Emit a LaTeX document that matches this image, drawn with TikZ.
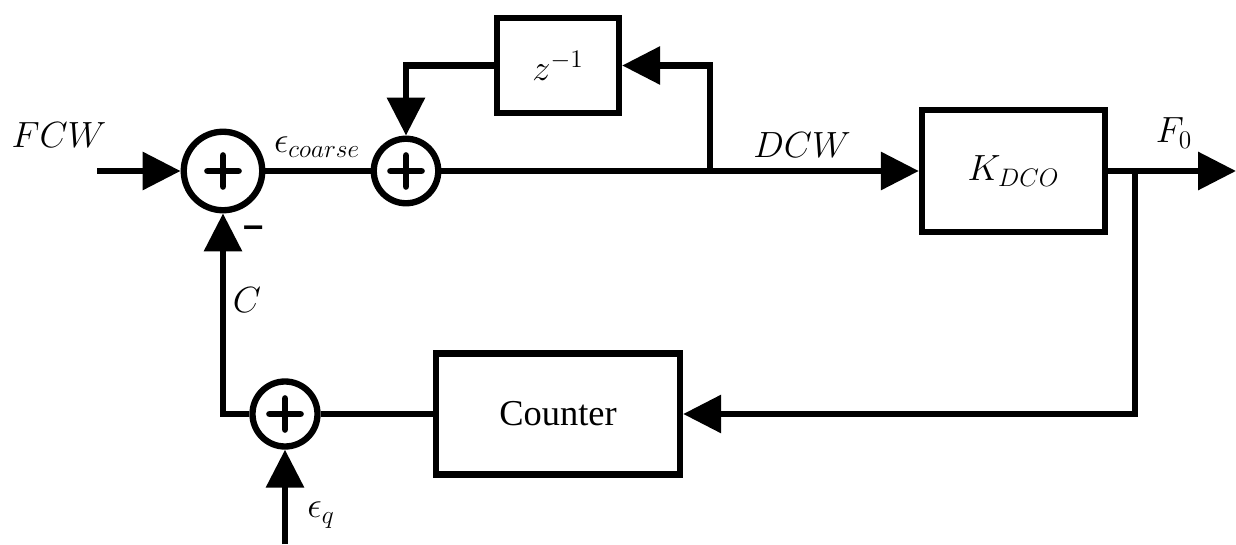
\documentclass[tikz,border=0pt]{standalone}
\usepackage[no-math]{fontspec}
\setmainfont{Liberation Serif}
\setsansfont{Liberation Sans}
\usepackage{tikz}
\usetikzlibrary{arrows.meta,positioning}
\tikzset{wire/.style={line width=3.6pt},
  box/.style={draw,wire,rectangle,inner sep=0pt,font=\huge},
  summer/.style={draw,wire,circle,inner sep=0pt,
    path picture={\draw[line width=3.8pt,line cap=round]
      ([xshift=-0.31cm]path picture bounding box.center) -- ([xshift=0.31cm]path picture bounding box.center)
      ([yshift=-0.31cm]path picture bounding box.center) -- ([yshift=0.31cm]path picture bounding box.center);}},
  lbl/.style={font=\huge,inner sep=0pt},
  arrow/.style={wire,-{Triangle[length=7.6mm,width=7.4mm]}}}

\begin{document}
\begin{tikzpicture}[on grid]
\useasboundingbox (0,0) rectangle (24.72,10.88);
\node[summer,minimum size=1.57cm] (sum1) at (4.46,7.46) {};
\node[summer,minimum size=1.29cm,right=3.66cm of sum1] (sum2) {};
\node[box,minimum width=2.44cm,minimum height=1.9cm,above right=2.11cm and 3.04cm of sum2] (zinv) {$z^{-1}$};
\node[box,minimum width=3.66cm,minimum height=2.44cm,right=12.15cm of sum2] (kdco) {$K_{DCO}$};
\node[box,minimum width=4.88cm,minimum height=2.42cm,below=6.97cm of zinv] (counter) {Counter};
\node[summer,minimum size=1.3cm,left=5.46cm of counter] (sum3) {};
\coordinate[left=2.52cm of sum1] (in);
\coordinate[right=6.08cm of sum2] (fork);
\coordinate[right=2.43cm of kdco] (tap);
\coordinate[right=4.45cm of kdco] (out);
\coordinate[below=2.6cm of sum3] (eqin);
\node[lbl,above left=0.72cm and 3.28cm of sum1] (fcw) {$FCW$};
\node[lbl,above right=0.48cm and 1.88cm of sum1] (ecoarse) {$\epsilon_{coarse}$};
\node[lbl,above left=0.52cm and 4.23cm of kdco] (dcw) {$DCW$};
\node[lbl,above right=0.76cm and 3.21cm of kdco] (f0) {$F_0$};
\node[lbl,below right=2.58cm and 0.48cm of sum1] (c) {$C$};
\node[lbl,below right=1.22cm and 0.62cm of sum1] (minus) {\sffamily\bfseries --};
\node[lbl,below right=2.02cm and 0.72cm of sum3] (eq) {$\epsilon_q$};
\draw[arrow] (in) -- (sum1);
\draw[wire] (sum1) -- (sum2);
\draw[arrow] (sum2) -- (kdco);
\draw[arrow] (fork) |- (zinv);
\draw[arrow] (zinv) -| (sum2);
\draw[arrow] (kdco) -- (out);
\draw[arrow] (tap) |- (counter);
\draw[wire] (counter) -- (sum3);
\draw[arrow] (sum3) -| (sum1);
\draw[arrow] (eqin) -- (sum3);
\end{tikzpicture}
\end{document}
